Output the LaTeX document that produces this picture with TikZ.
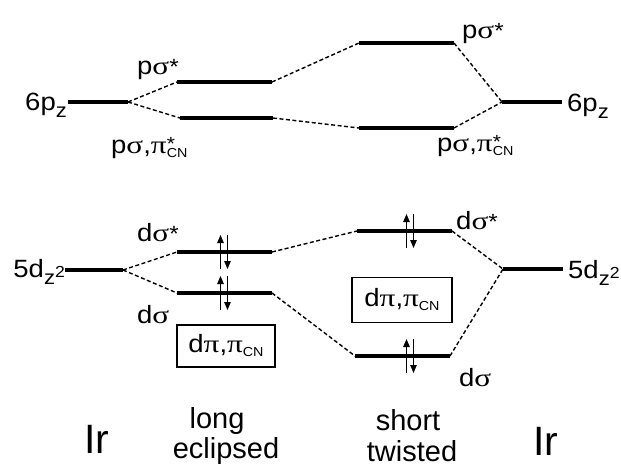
\documentclass[tikz,border=0pt]{standalone}
\usepackage{fontspec}
\setmainfont{Liberation Sans}
\newfontfamily\labf[FakeStretch=1.1]{Liberation Sans}
\newfontfamily\gk[FakeStretch=1.25]{Liberation Serif}
\usetikzlibrary{arrows.meta,calc}
\newcommand{\sg}{{\gk σ}}
\newcommand{\pii}{{\gk π}}
\newcommand{\stk}[2]{\rlap{\raisebox{0.12em}{\fontsize{19}{19}\selectfont #1}}\raisebox{-0.16em}{\fontsize{13}{13}\selectfont #2}}
\newcommand{\subz}{\raisebox{-7pt}{\fontsize{20}{20}\selectfont z}}
\newcommand{\cn}{\raisebox{-0.16em}{\fontsize{13}{13}\selectfont CN}}
\newcommand{\str}{{\fontsize{22}{22}\selectfont *}}
\tikzset{
  levelline/.style={line width=3.5pt},
  conn/.style={line width=1.4pt, dash pattern=on 4pt off 2.5pt},
  lab/.style={font=\labf\fontsize{25}{27}\selectfont, inner sep=0pt},
  biglab/.style={font=\fontsize{29}{30}\selectfont, inner sep=0pt},
  irlab/.style={font=\fontsize{41}{41}\selectfont, inner sep=0pt},
  mobox/.style={draw, line width=1.8pt, inner sep=0pt, font=\labf\fontsize{25}{27}\selectfont},
  spin/.style={line width=1.2pt, -{Triangle[length=8pt,width=6.5pt]}},
}
\newcommand{\pair}[1]{%
  \draw[spin] ($(#1)+(-3.5,17)$) -- ($(#1)+(-3.5,-17)$);
  \draw[spin] ($(#1)+(3.5,-17)$) -- ($(#1)+(3.5,17)$);}
\begin{document}
\begin{tikzpicture}[x=1pt,y=-1pt]
\useasboundingbox (0,0) rectangle (621,466);
% ---- top levels
\coordinate (pzL1) at (68,102);  \coordinate (pzL2) at (128,102);
\coordinate (psL1) at (177,82);  \coordinate (psL2) at (272,82);
\coordinate (ppL1) at (180,118); \coordinate (ppL2) at (273,118);
\coordinate (psS1) at (359,43);  \coordinate (psS2) at (454,43);
\coordinate (ppS1) at (359,128); \coordinate (ppS2) at (454,128);
\coordinate (pzR1) at (502,102); \coordinate (pzR2) at (562,102);
% ---- bottom levels
\coordinate (dzL1) at (65,270);   \coordinate (dzL2) at (123,270);
\coordinate (dxL1) at (177,252);  \coordinate (dxL2) at (272,252);
\coordinate (dsL1) at (177,293);  \coordinate (dsL2) at (272,293);
\coordinate (dxS1) at (357,231);  \coordinate (dxS2) at (452,231);
\coordinate (dsS1) at (355,356);  \coordinate (dsS2) at (450,356);
\coordinate (dzR1) at (503,269);  \coordinate (dzR2) at (563,269);
\foreach \a in {pzL,psL,ppL,psS,ppS,pzR,dzL,dxL,dsL,dxS,dsS,dzR}
  \draw[levelline] (\a1) -- (\a2);
% ---- connectors
\draw[conn] (pzL2) -- (psL1);
\draw[conn] (pzL2) -- (ppL1);
\draw[conn] (psL2) -- (psS1);
\draw[conn] (ppL2) -- (ppS1);
\draw[conn] (psS2) -- (pzR1);
\draw[conn] (ppS2) -- (pzR1);
\draw[conn] (dzL2) -- (dxL1);
\draw[conn] (dzL2) -- (dsL1);
\draw[conn] (dxL2) -- (dxS1);
\draw[conn] (dsL2) -- (dsS1);
\draw[conn] (dxS2) -- (dzR1);
\draw[conn] (dsS2) -- (dzR1);
% ---- electrons
\coordinate (e1) at (224,252);
\coordinate (e2) at (224,293);
\coordinate (e3) at (410,231);
\coordinate (e4) at (410,356);
\pair{e1}\pair{e2}\pair{e3}\pair{e4}
% ---- labels
\node[lab, anchor=base east] (t6L) at (67,110) {6p\subz};
\node[lab, anchor=base west] (t6R) at (567,111) {6p\subz};
\node[lab, anchor=base west] (tpsL) at (137,74) {p\sg\str};
\node[lab, anchor=base west] (tppL) at (111,153) {p\sg,\pii\stk{*}{CN}};
\node[lab, anchor=base west] (tpsS) at (462,38) {p\sg\str};
\node[lab, anchor=base west] (tppS) at (437,151) {p\sg,\pii\stk{*}{CN}};
\node[lab, anchor=base east] (t5L) at (65,277) {5d\subz{\fontsize{16}{16}\selectfont 2}};
\node[lab, anchor=base west] (t5R) at (568,278) {5d\subz{\fontsize{16}{16}\selectfont 2}};
\node[lab, anchor=base west] (tdxL) at (137,241) {d\sg\str};
\node[lab, anchor=base west] (tdsL) at (137,323) {d\sg};
\node[lab, anchor=base west] (tdxS) at (456,229) {d\sg\str};
\node[lab, anchor=base west] (tdsS) at (459,386) {d\sg};
\node[mobox, minimum width=98pt, minimum height=42pt] (boxL) at (226,346) {d\pii,\pii\cn};
\node[mobox, minimum width=100pt, minimum height=45pt] (boxS) at (402,300) {d\pii,\pii\cn};
% ---- bottom captions
\node[irlab, anchor=base west] (irL) at (84,453) {Ir};
\node[irlab, anchor=base west] (irR) at (533,455) {Ir};
\node[biglab, anchor=base] (long) at (217,428) {long};
\node[biglab, anchor=base] (ecl) at (226,458) {eclipsed};
\node[biglab, anchor=base] (short) at (408,430) {short};
\node[biglab, anchor=base] (tw) at (412,461) {twisted};
\end{tikzpicture}
\end{document}
